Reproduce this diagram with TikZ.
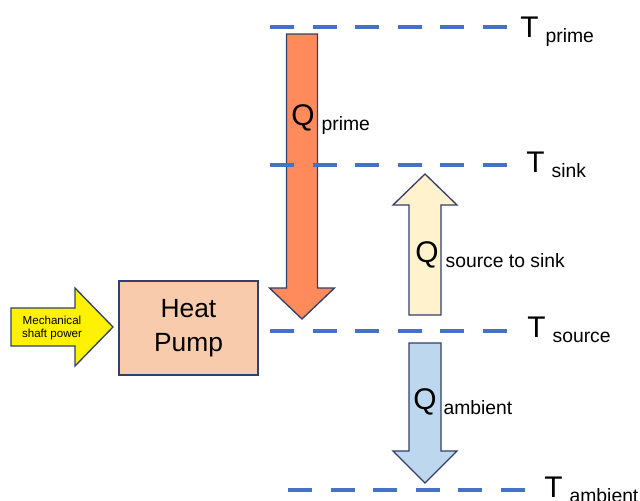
\documentclass[tikz,border=0pt]{standalone}
\usepackage{fontspec}
\setmainfont{Liberation Sans}
\usepackage{tikz}
\usetikzlibrary{positioning}
\definecolor{levelblue}{RGB}{68,114,196}
\definecolor{edgenavy}{RGB}{50,64,105}
\definecolor{hotorange}{RGB}{255,138,92}
\definecolor{liftcream}{RGB}{255,242,204}
\definecolor{lossblue}{RGB}{189,215,238}
\definecolor{pumppeach}{RGB}{248,203,173}
\newcommand{\qsub}[1]{\hspace{4pt}\raisebox{-3pt}{\fontsize{11}{13}\selectfont #1}}

\begin{document}
\begin{tikzpicture}[
    x=0.02cm, y=-0.02cm,
    templine/.style = {levelblue, line width=2.8pt,
                       dash pattern=on 0.48cm off 0.372cm},
    blockarrow/.style = {draw=edgenavy, line width=0.75pt, line join=miter},
    biglbl/.style   = {inner sep=0pt, anchor=base west,
                       font=\fontsize{17}{20}\selectfont},
    hpbox/.style    = {draw=edgenavy, line width=0.75pt, fill=pumppeach,
                       minimum width=139*0.02cm, minimum height=94*0.02cm,
                       align=center, font=\fontsize{15}{19.3}\selectfont}
  ]
  \useasboundingbox (0,0) rectangle (640,501);

  % heat flows
  \filldraw[blockarrow, fill=hotorange]
    (286.5,34) -- (317.5,34) -- (317.5,288) -- (334.5,288) -- (302,319)
    -- (269.5,288) -- (286.5,288) -- cycle;
  \filldraw[blockarrow, fill=liftcream]
    (409,315) -- (409,205) -- (393,205) -- (425,174) -- (457,205)
    -- (441,205) -- (441,315) -- cycle;
  \filldraw[blockarrow, fill=lossblue]
    (409,343) -- (441,343) -- (441,451) -- (457,451) -- (425,483)
    -- (393,451) -- (409,451) -- cycle;

  % shaft power into the pump
  \filldraw[blockarrow, fill=yellow]
    (11,308) -- (75,308) -- (75,288) -- (113,327) -- (75,366)
    -- (75,346) -- (11,346) -- cycle;
  \node[align=center, inner sep=0pt,
        font=\fontsize{6.6}{7.4}\selectfont] (shaft) at (52,328)
        {Mechanical\\shaft power};

  \node[hpbox] (pump) at (188.5,328) {Heat\\Pump};

  % temperature levels
  \draw[templine] (270,27)  -- (507,27);
  \draw[templine] (270,165) -- (507,165);
  \draw[templine] (270,331) -- (507,331);
  \draw[templine] (288,490) -- (525,490);

  \node[biglbl] (tprime)   at (520,37)  {T\qsub{prime}};
  \node[biglbl] (tsink)    at (526,172) {T\qsub{sink}};
  \node[biglbl] (tsource)  at (527,337) {T\qsub{source}};
  \node[biglbl] (tambient) at (544,497) {T\qsub{ambient}};

  \node[biglbl] (qprime)   at (291,125) {Q\qsub{prime}};
  \node[biglbl] (qlift)    at (415,262) {Q\qsub{source to sink}};
  \node[biglbl] (qambient) at (413,409) {Q\qsub{ambient}};
\end{tikzpicture}
\end{document}
